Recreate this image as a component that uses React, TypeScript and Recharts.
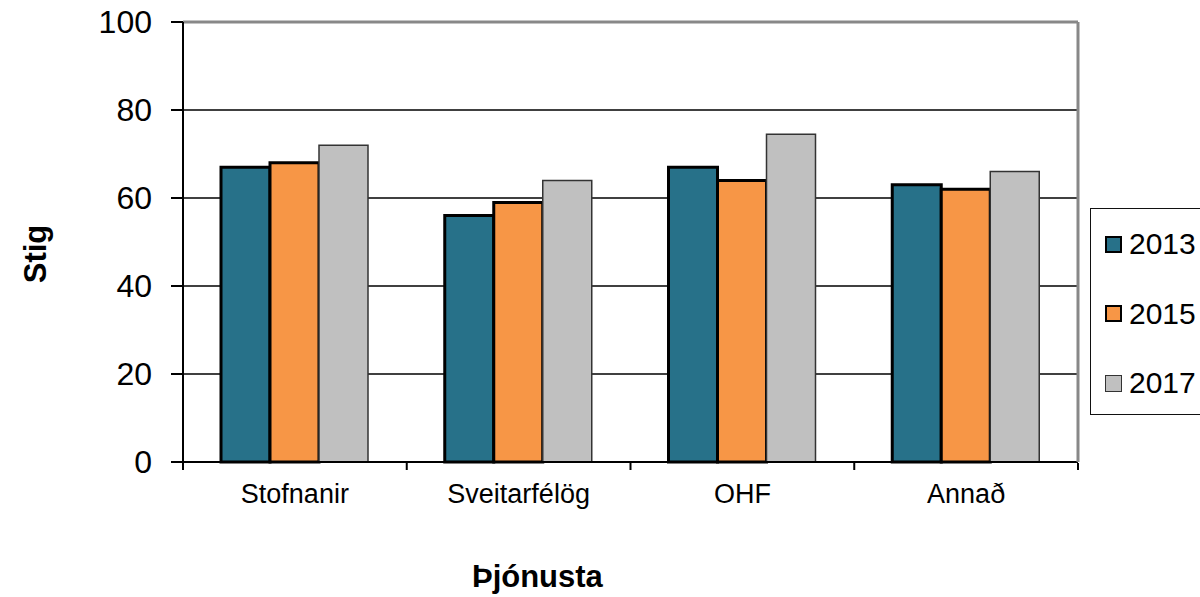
import React from 'react'
import { BarChart, Bar, XAxis, YAxis, CartesianGrid, Legend } from 'recharts'

const categories = ['Stofnanir', 'Sveitarfélög', 'OHF', 'Annað']
const values2013 = [67, 56, 67, 63]
const values2015 = [68, 59, 64, 62]
const values2017 = [72, 64, 74.5, 66]
const yTicks = [0, 20, 40, 60, 80, 100]
const gridValues = [20, 40, 60, 80]
const edgeTicks = [0, 1, 2, 3, 4]
const seriesNames = ['2013', '2015', '2017']

const FONT = '"Liberation Sans", Arial, sans-serif'

const seriesStyle = [
  { fill: '#277189', stroke: '#000', strokeWidth: 3 },
  { fill: '#F79646', stroke: '#000', strokeWidth: 3 },
  { fill: '#C0C0C0', stroke: '#333', strokeWidth: 1.5 },
]

const data = categories.map((c, i) => ({
  name: c,
  pos: i + 0.5,
  s2013: values2013[i],
  s2015: values2015[i],
  s2017: values2017[i],
}))

function CategoryTick(props: any) {
  const { x, y, payload } = props
  return (
    <text x={x} y={y + 33} textAnchor="middle" fontSize={27} fontFamily={FONT} fill="#000">
      {payload.value}
    </text>
  )
}

function EmptyTick() {
  return <g />
}

function LegendBox(props: any) {
  const items = (props.payload || []) as any[]
  return (
    <div style={{
      width: 140, height: 207, border: '1.5px solid #111', background: '#fff',
      fontFamily: FONT, position: 'relative', boxSizing: 'border-box',
    }}>
      {items.map((it, i) => {
        const st = seriesStyle[i]
        return (
          <div key={i} style={{
            position: 'absolute', left: 14, top: 15 + i * 69.5, height: 40,
            display: 'flex', alignItems: 'center',
          }}>
            <span style={{
              display: 'inline-block', width: 17, height: 17, boxSizing: 'border-box',
              background: st.fill, border: `${i < 2 ? 2.5 : 1.5}px solid ${st.stroke}`,
            }} />
            <span style={{ fontSize: 30, marginLeft: 7, color: '#000' }}>{it.value}</span>
          </div>
        )
      })}
    </div>
  )
}

export default function App() {
  return (
    <div style={{ position: 'fixed', left: 0, top: 0, width: 1200, height: 597, overflow: 'hidden', background: '#fff' }}>
      <BarChart
        width={1260}
        height={597}
        data={data}
        margin={{ top: 21, right: 181, bottom: 133, left: 83 }}
        barCategoryGap={38}
        barGap={0}
      >
        <CartesianGrid vertical={false} horizontalValues={gridValues} stroke="#000" strokeWidth={1.5} />
        <XAxis
          dataKey="name"
          height={1}
          axisLine={{ stroke: '#000', strokeWidth: 2 }}
          tickLine={false}
          tick={<CategoryTick />}
          interval={0}
          label={{
            content: (p: any) => {
              const vb = p.viewBox
              return (
                <text x={vb.x + vb.width * 0.396} y={vb.y + 125} textAnchor="middle"
                  fontSize={31} fontWeight="bold" fontFamily={FONT} fill="#000">
                  Þjónusta
                </text>
              )
            },
          }}
        />
        <XAxis
          xAxisId="edge"
          dataKey="pos"
          type="number"
          domain={[0, 4]}
          ticks={edgeTicks}
          interval={0}
          height={1}
          axisLine={false}
          tickLine={{ stroke: '#000', strokeWidth: 2 }}
          tickSize={7}
          tick={<EmptyTick />}
        />
        <XAxis
          xAxisId="top"
          orientation="top"
          dataKey="pos"
          type="number"
          domain={[0, 4]}
          height={1}
          axisLine={{ stroke: '#888', strokeWidth: 3 }}
          tickLine={false}
          tick={<EmptyTick />}
        />
        <YAxis
          domain={[0, 100]}
          ticks={yTicks}
          width={100}
          axisLine={{ stroke: '#000', strokeWidth: 2 }}
          tickLine={{ stroke: '#000', strokeWidth: 2 }}
          tickSize={12}
          tickMargin={19}
          tick={{ fontSize: 32, fontFamily: FONT, fill: '#000' }}
          label={{
            content: (p: any) => {
              const vb = p.viewBox
              const cx = 46
              const cy = vb.y + vb.height / 2 + 12
              return (
                <text x={cx} y={cy} transform={`rotate(-90 ${cx} ${cy})`} textAnchor="middle"
                  fontSize={31} fontWeight="bold" fontFamily={FONT} fill="#000">
                  Stig
                </text>
              )
            },
          }}
        />
        <YAxis
          yAxisId="right"
          orientation="right"
          domain={[0, 100]}
          width={1}
          axisLine={{ stroke: '#888', strokeWidth: 3 }}
          tickLine={false}
          tick={false}
        />
        <Legend
          layout="horizontal"
          verticalAlign="middle"
          align="center"
          content={<LegendBox />}
          wrapperStyle={{ left: 1090, top: 208, width: 140, height: 207 }}
        />
        <Bar dataKey="s2013" name={seriesNames[0]} fill={seriesStyle[0].fill} stroke={seriesStyle[0].stroke} strokeWidth={seriesStyle[0].strokeWidth} isAnimationActive={false} />
        <Bar dataKey="s2015" name={seriesNames[1]} fill={seriesStyle[1].fill} stroke={seriesStyle[1].stroke} strokeWidth={seriesStyle[1].strokeWidth} isAnimationActive={false} />
        <Bar dataKey="s2017" name={seriesNames[2]} fill={seriesStyle[2].fill} stroke={seriesStyle[2].stroke} strokeWidth={seriesStyle[2].strokeWidth} isAnimationActive={false} />
      </BarChart>
    </div>
  )
}
